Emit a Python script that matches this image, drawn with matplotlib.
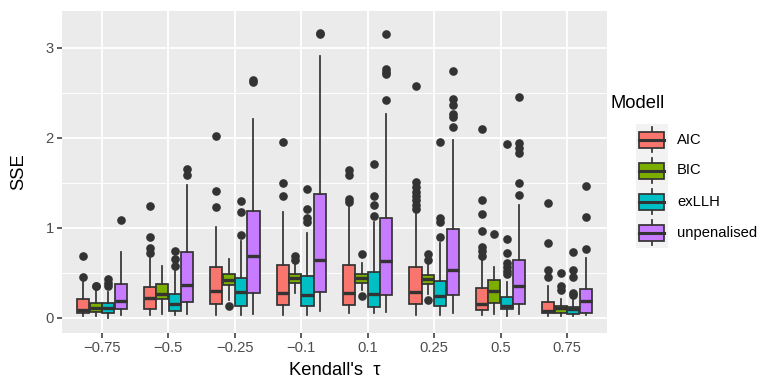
import numpy as np
import matplotlib
matplotlib.use("Agg")
import matplotlib.pyplot as plt
from matplotlib.patches import Rectangle

plt.rcParams['font.family'] = ['Liberation Sans', 'DejaVu Sans']

# categories
taus = ["\u22120.75", "\u22120.5", "\u22120.25", "\u22120.1", "0.1", "0.25", "0.5", "0.75"]
models = ["AIC", "BIC", "exLLH", "unpenalised"]
colors = ["#F8766D", "#7CAE00", "#00BFC4", "#C77CFF"]

# box statistics per model, one value per tau
aic_q1 = [0.056, 0.10, 0.16, 0.14, 0.14, 0.15, 0.09, 0.05]
aic_med = [0.09, 0.22, 0.30, 0.28, 0.28, 0.29, 0.15, 0.08]
aic_q3 = [0.21, 0.34, 0.57, 0.59, 0.59, 0.57, 0.33, 0.18]
aic_lo = [0.02, 0.03, 0.03, 0.03, 0.05, 0.03, 0.03, 0.02]
aic_hi = [0.40, 0.67, 1.01, 1.18, 1.24, 1.16, 0.64, 0.35]
aic_out = [[0.69, 0.46], [1.24, 0.90, 0.78, 0.72], [2.02, 1.41, 1.23],
           [1.95, 1.50, 1.35], [1.64, 1.59, 1.32, 1.29],
           [2.58, 1.51, 1.46, 1.40, 1.36, 1.31, 1.25, 1.21],
           [2.10, 1.31, 1.15, 0.97, 0.79, 0.74, 0.69], [1.28, 0.83, 0.53, 0.46]]

bic_q1 = [0.07, 0.21, 0.37, 0.39, 0.39, 0.38, 0.17, 0.05]
bic_med = [0.11, 0.27, 0.42, 0.44, 0.44, 0.43, 0.30, 0.11]
bic_q3 = [0.17, 0.38, 0.49, 0.49, 0.49, 0.48, 0.42, 0.13]
bic_lo = [0.02, 0.04, 0.20, 0.28, 0.31, 0.27, 0.04, 0.02]
bic_hi = [0.31, 0.58, 0.66, 0.61, 0.61, 0.59, 0.57, 0.21]
bic_out = [[0.36, 0.35], [], [0.13], [0.69, 0.64], [0.71, 0.24],
           [0.71, 0.64, 0.20], [0.93], [0.50, 0.36, 0.31]]

ex_q1 = [0.05, 0.08, 0.13, 0.13, 0.12, 0.13, 0.10, 0.04]
ex_med = [0.11, 0.16, 0.29, 0.25, 0.27, 0.24, 0.13, 0.10]
ex_q3 = [0.17, 0.27, 0.44, 0.47, 0.51, 0.41, 0.23, 0.12]
ex_lo = [0.00, 0.03, 0.03, 0.03, 0.05, 0.03, 0.02, 0.02]
ex_hi = [0.29, 0.52, 0.86, 0.94, 1.07, 0.83, 0.40, 0.20]
ex_out = [[0.43, 0.39, 0.35], [0.74, 0.66, 0.58], [1.30, 1.18, 0.92],
          [1.43, 1.21, 1.11, 1.07], [1.71, 1.36, 1.26, 1.13],
          [1.96, 1.11, 1.07, 0.90],
          [1.93, 0.88, 0.72, 0.61, 0.57, 0.52, 0.49],
          [0.73, 0.53, 0.46, 0.28, 0.25]]

un_q1 = [0.10, 0.18, 0.28, 0.29, 0.25, 0.26, 0.16, 0.06]
un_med = [0.19, 0.37, 0.69, 0.64, 0.63, 0.53, 0.36, 0.19]
un_q3 = [0.38, 0.73, 1.19, 1.38, 1.11, 0.99, 0.64, 0.32]
un_lo = [0.03, 0.04, 0.04, 0.08, 0.07, 0.06, 0.04, 0.03]
un_hi = [0.73, 1.48, 2.21, 2.91, 2.27, 1.98, 1.25, 0.67]
un_out = [[1.09], [1.66, 1.59], [2.64, 2.62], [3.17, 3.15],
          [3.15, 2.77, 2.73, 2.71, 2.42],
          [2.74, 2.43, 2.37, 2.27, 2.23, 2.12],
          [2.45, 1.94, 1.89, 1.83, 1.50, 1.37], [1.47, 1.12, 0.77]]

series = [
    (aic_q1, aic_med, aic_q3, aic_lo, aic_hi, aic_out),
    (bic_q1, bic_med, bic_q3, bic_lo, bic_hi, bic_out),
    (ex_q1, ex_med, ex_q3, ex_lo, ex_hi, ex_out),
    (un_q1, un_med, un_q3, un_lo, un_hi, un_out),
]

W, H, DPI = 766, 384, 100
fig = plt.figure(figsize=(W / DPI, H / DPI), dpi=DPI)
ax = fig.add_axes([62 / W, 1 - 333 / H, (607 - 62) / W, (333 - 11) / H])
ax.set_facecolor("#EBEBEB")

edge = "#333333"
lw = 1.25
slot = 0.75 / len(models)
x = np.arange(1, len(taus) + 1)

for m, (q1, med, q3, lo, hi, out) in enumerate(series):
    stats = []
    for i in range(len(taus)):
        stats.append(dict(med=med[i], q1=q1[i], q3=q3[i], whislo=lo[i],
                          whishi=hi[i], fliers=np.array(out[i])))
    pos = x + (m - 1.5) * slot
    ax.bxp(stats, positions=pos, widths=slot * 0.97, patch_artist=True,
           showcaps=False, manage_ticks=False,
           boxprops=dict(facecolor=colors[m], edgecolor=edge, linewidth=lw),
           whiskerprops=dict(color=edge, linewidth=lw),
           medianprops=dict(color=edge, linewidth=2.4, solid_capstyle='butt'),
           flierprops=dict(marker='o', markerfacecolor=edge, markeredgecolor=edge,
                           markersize=5.2, linestyle='none'),
           zorder=3)

ax.set_xlim(0.4, 8.6)
ax.set_ylim(-0.167, 3.41)
ax.set_xticks(x)
ax.set_xticklabels(taus)
ax.set_yticks([0, 1, 2, 3])
ax.set_yticks([0.5, 1.5, 2.5], minor=True)
ax.grid(which='major', color='white', linewidth=1.3, zorder=0)
ax.grid(which='minor', axis='y', color='white', linewidth=0.65, zorder=0)
ax.set_axisbelow(True)
for s in ax.spines.values():
    s.set_visible(False)
ax.tick_params(axis='both', which='major', length=3.5, width=1.1, color='#333333',
               labelsize=10.6, labelcolor='#4D4D4D', pad=2.5)
ax.tick_params(axis='y', which='minor', length=0)
ax.set_xlabel("Kendall's  \u03c4", fontsize=13.2, labelpad=5)
ax.set_ylabel("SSE", fontsize=13.2, labelpad=13)

# legend drawn in pixel space
lg = fig.add_axes([0, 0, 1, 1], zorder=5)
lg.set_xlim(0, W)
lg.set_ylim(H, 0)
lg.axis('off')
lg.text(610, 103, "Modell", fontsize=13.2, va='center', ha='left')
key_top, key_h = 124, 31
for m, name in enumerate(models):
    y0 = key_top + m * key_h
    cy = y0 + key_h / 2
    lg.add_patch(Rectangle((636, y0), 32, key_h, facecolor='#F2F2F2', edgecolor='none'))
    lg.plot([652, 652], [y0 + 3, y0 + key_h - 3], color=edge, linewidth=lw)
    lg.add_patch(Rectangle((639, cy - 8), 25, 16, facecolor=colors[m],
                           edgecolor=edge, linewidth=lw, zorder=3))
    lg.plot([639, 664], [cy, cy], color=edge, linewidth=2.2, zorder=4)
    lg.text(677, cy, name, fontsize=10.6, va='center', ha='left')

fig.savefig("out.png", dpi=DPI)
